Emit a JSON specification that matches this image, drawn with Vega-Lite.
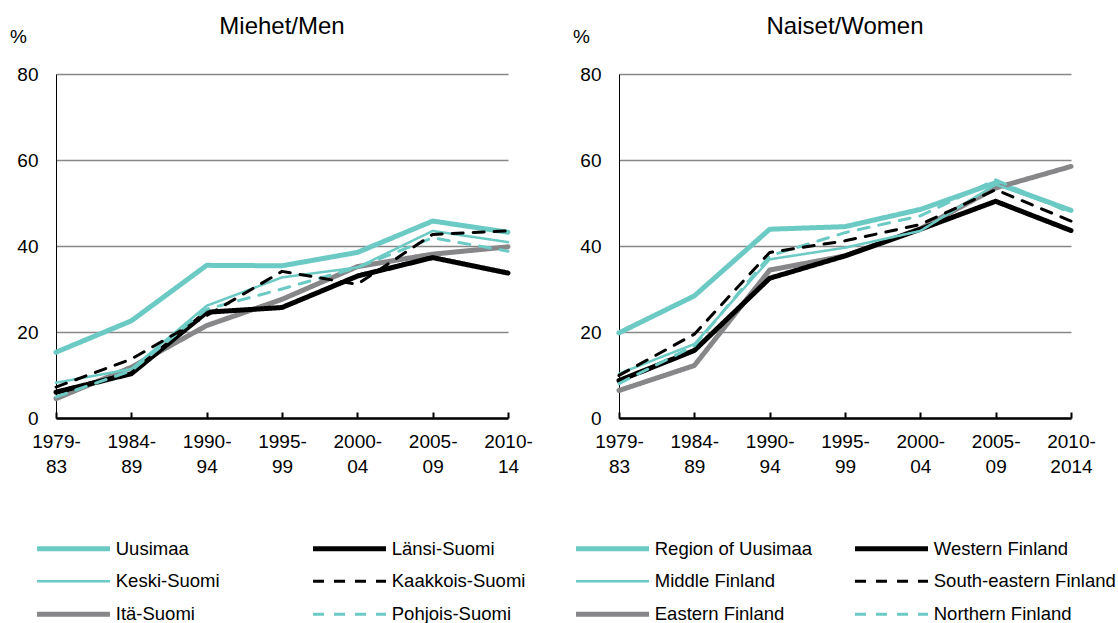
{
  "$schema": "https://vega.github.io/schema/vega-lite/v6.json",
  "padding": {"left": 9, "top": 15, "right": 5, "bottom": 0},
  "background": "white",
  "spacing": 39,
  "resolve": {
    "scale": {"color": "independent", "strokeDash": "independent", "strokeWidth": "independent"},
    "legend": {"color": "independent", "strokeDash": "independent", "strokeWidth": "independent"}
  },
  "config": {
    "font": "Liberation Sans",
    "view": {"stroke": null},
    "title": {"fontSize": 24, "fontWeight": "normal", "color": "#000000", "font": "Liberation Sans", "frame": "group", "offset": -12, "anchor": "middle"},
    "axis": {"labelFont": "Liberation Sans", "labelFontSize": 19, "labelColor": "#000000", "titleFont": "Liberation Sans", "titleFontWeight": "normal", "titleColor": "#000000"},
    "legend": {"labelFont": "Liberation Sans", "labelFontSize": 18.5, "labelColor": "#000000", "labelLimit": 400}
  },
  "datasets": {
    "men": [
      {"region": "Uusimaa", "period": "1979-|83", "value": 15.3},
      {"region": "Uusimaa", "period": "1984-|89", "value": 22.6},
      {"region": "Uusimaa", "period": "1990-|94", "value": 35.5},
      {"region": "Uusimaa", "period": "1995-|99", "value": 35.4},
      {"region": "Uusimaa", "period": "2000-|04", "value": 38.5},
      {"region": "Uusimaa", "period": "2005-|09", "value": 45.8},
      {"region": "Uusimaa", "period": "2010-|14", "value": 43.2},
      {"region": "Itä-Suomi", "period": "1979-|83", "value": 4.5},
      {"region": "Itä-Suomi", "period": "1984-|89", "value": 11.8},
      {"region": "Itä-Suomi", "period": "1990-|94", "value": 21.5},
      {"region": "Itä-Suomi", "period": "1995-|99", "value": 27.6},
      {"region": "Itä-Suomi", "period": "2000-|04", "value": 35.2},
      {"region": "Itä-Suomi", "period": "2005-|09", "value": 38.1},
      {"region": "Itä-Suomi", "period": "2010-|14", "value": 39.8},
      {"region": "Länsi-Suomi", "period": "1979-|83", "value": 6.0},
      {"region": "Länsi-Suomi", "period": "1984-|89", "value": 10.3},
      {"region": "Länsi-Suomi", "period": "1990-|94", "value": 24.6},
      {"region": "Länsi-Suomi", "period": "1995-|99", "value": 25.7},
      {"region": "Länsi-Suomi", "period": "2000-|04", "value": 33.0},
      {"region": "Länsi-Suomi", "period": "2005-|09", "value": 37.3},
      {"region": "Länsi-Suomi", "period": "2010-|14", "value": 33.7},
      {"region": "Keski-Suomi", "period": "1979-|83", "value": 8.2},
      {"region": "Keski-Suomi", "period": "1984-|89", "value": 11.4},
      {"region": "Keski-Suomi", "period": "1990-|94", "value": 26.1},
      {"region": "Keski-Suomi", "period": "1995-|99", "value": 32.7},
      {"region": "Keski-Suomi", "period": "2000-|04", "value": 35.0},
      {"region": "Keski-Suomi", "period": "2005-|09", "value": 43.5},
      {"region": "Keski-Suomi", "period": "2010-|14", "value": 40.9},
      {"region": "Pohjois-Suomi", "period": "1979-|83", "value": 4.9},
      {"region": "Pohjois-Suomi", "period": "1984-|89", "value": 11.0},
      {"region": "Pohjois-Suomi", "period": "1990-|94", "value": 25.3},
      {"region": "Pohjois-Suomi", "period": "1995-|99", "value": 30.0},
      {"region": "Pohjois-Suomi", "period": "2000-|04", "value": 35.0},
      {"region": "Pohjois-Suomi", "period": "2005-|09", "value": 41.9},
      {"region": "Pohjois-Suomi", "period": "2010-|14", "value": 38.8},
      {"region": "Kaakkois-Suomi", "period": "1979-|83", "value": 7.2},
      {"region": "Kaakkois-Suomi", "period": "1984-|89", "value": 13.7},
      {"region": "Kaakkois-Suomi", "period": "1990-|94", "value": 23.8},
      {"region": "Kaakkois-Suomi", "period": "1995-|99", "value": 34.1},
      {"region": "Kaakkois-Suomi", "period": "2000-|04", "value": 31.1},
      {"region": "Kaakkois-Suomi", "period": "2005-|09", "value": 42.7},
      {"region": "Kaakkois-Suomi", "period": "2010-|14", "value": 43.5}
    ],
    "women": [
      {"region": "Region of Uusimaa", "period": "1979-|83", "value": 19.8},
      {"region": "Region of Uusimaa", "period": "1984-|89", "value": 28.4},
      {"region": "Region of Uusimaa", "period": "1990-|94", "value": 43.9},
      {"region": "Region of Uusimaa", "period": "1995-|99", "value": 44.5},
      {"region": "Region of Uusimaa", "period": "2000-|04", "value": 48.5},
      {"region": "Region of Uusimaa", "period": "2005-|09", "value": 54.7},
      {"region": "Region of Uusimaa", "period": "2010-|2014", "value": 48.3},
      {"region": "Eastern Finland", "period": "1979-|83", "value": 6.4},
      {"region": "Eastern Finland", "period": "1984-|89", "value": 12.2},
      {"region": "Eastern Finland", "period": "1990-|94", "value": 34.4},
      {"region": "Eastern Finland", "period": "1995-|99", "value": 37.7},
      {"region": "Eastern Finland", "period": "2000-|04", "value": 44.0},
      {"region": "Eastern Finland", "period": "2005-|09", "value": 53.5},
      {"region": "Eastern Finland", "period": "2010-|2014", "value": 58.5},
      {"region": "Western Finland", "period": "1979-|83", "value": 8.7},
      {"region": "Western Finland", "period": "1984-|89", "value": 15.7},
      {"region": "Western Finland", "period": "1990-|94", "value": 32.5},
      {"region": "Western Finland", "period": "1995-|99", "value": 37.7},
      {"region": "Western Finland", "period": "2000-|04", "value": 43.9},
      {"region": "Western Finland", "period": "2005-|09", "value": 50.4},
      {"region": "Western Finland", "period": "2010-|2014", "value": 43.6},
      {"region": "Middle Finland", "period": "1979-|83", "value": 10.3},
      {"region": "Middle Finland", "period": "1984-|89", "value": 17.2},
      {"region": "Middle Finland", "period": "1990-|94", "value": 36.9},
      {"region": "Middle Finland", "period": "1995-|99", "value": 39.6},
      {"region": "Middle Finland", "period": "2000-|04", "value": 43.5},
      {"region": "Middle Finland", "period": "2005-|09", "value": 54.3},
      {"region": "Middle Finland", "period": "2010-|2014", "value": 48.1},
      {"region": "Northern Finland", "period": "1979-|83", "value": 8.0},
      {"region": "Northern Finland", "period": "1984-|89", "value": 16.8},
      {"region": "Northern Finland", "period": "1990-|94", "value": 37.7},
      {"region": "Northern Finland", "period": "1995-|99", "value": 43.1},
      {"region": "Northern Finland", "period": "2000-|04", "value": 47.0},
      {"region": "Northern Finland", "period": "2005-|09", "value": 55.4},
      {"region": "Northern Finland", "period": "2010-|2014", "value": 47.7},
      {"region": "South-eastern Finland", "period": "1979-|83", "value": 9.9},
      {"region": "South-eastern Finland", "period": "1984-|89", "value": 19.5},
      {"region": "South-eastern Finland", "period": "1990-|94", "value": 38.5},
      {"region": "South-eastern Finland", "period": "1995-|99", "value": 41.2},
      {"region": "South-eastern Finland", "period": "2000-|04", "value": 45.0},
      {"region": "South-eastern Finland", "period": "2005-|09", "value": 53.1},
      {"region": "South-eastern Finland", "period": "2010-|2014", "value": 45.8}
    ]
  },
  "hconcat": [
    {
      "title": {"text": "Miehet/Men"},
      "width": 452,
      "height": 344,
      "data": {"name": "men"},
      "mark": {"type": "line", "strokeCap": "round", "strokeJoin": "round"},
      "encoding": {
        "x": {"field": "period", "type": "ordinal", "sort": null, "scale": {"type": "point", "padding": 0},
          "axis": {"title": null, "labelAngle": 0, "labelExpr": "split(datum.label, '|')", "labelLineHeight": 25, "domainColor": "#000000", "domainWidth": 2.5, "ticks": true, "tickColor": "#000000", "tickWidth": 2, "tickSize": -6, "labelPadding": 20, "grid": false}},
        "y": {"field": "value", "type": "quantitative", "scale": {"domain": [0, 80], "nice": false},
          "axis": {"title": "%", "titleAngle": 0, "titleX": -38, "titleY": -32, "titleAlign": "center", "titleBaseline": "alphabetic", "titleFontSize": 19, "values": [0, 20, 40, 60, 80], "ticks": false, "labelPadding": 18, "domainColor": "#000000", "domainWidth": 1, "grid": true, "gridColor": "#878787", "gridWidth": 1.6}},
        "color": {"field": "region", "type": "nominal",
          "scale": {"domain": ["Uusimaa", "Länsi-Suomi", "Keski-Suomi", "Kaakkois-Suomi", "Itä-Suomi", "Pohjois-Suomi"], "range": ["#6ccac5", "#000000", "#6ccac5", "#000000", "#87878a", "#6ccac5"]},
          "legend": {"orient": "none", "direction": "horizontal", "legendX": -21, "legendY": 465, "columns": 2, "title": null, "symbolType": "M-36.5,0H36.5", "symbolSize": 4, "symbolOffset": 29.25, "labelOffset": 33, "columnPadding": 83, "rowPadding": 13}},
        "strokeDash": {"field": "region", "type": "nominal",
          "scale": {"domain": ["Uusimaa", "Länsi-Suomi", "Keski-Suomi", "Kaakkois-Suomi", "Itä-Suomi", "Pohjois-Suomi"], "range": [[1, 0], [1, 0], [1, 0], [11, 10], [1, 0], [11, 10]]},
          "legend": {"orient": "none", "direction": "horizontal", "legendX": -21, "legendY": 465, "columns": 2, "title": null, "symbolType": "M-36.5,0H36.5", "symbolSize": 4, "symbolOffset": 29.25, "labelOffset": 33, "columnPadding": 83, "rowPadding": 13}},
        "strokeWidth": {"field": "region", "type": "nominal",
          "scale": {"type": "ordinal", "domain": ["Uusimaa", "Länsi-Suomi", "Keski-Suomi", "Kaakkois-Suomi", "Itä-Suomi", "Pohjois-Suomi"], "range": [5, 5, 2.5, 3, 5, 3]},
          "legend": {"orient": "none", "direction": "horizontal", "legendX": -21, "legendY": 465, "columns": 2, "title": null, "symbolType": "M-36.5,0H36.5", "symbolSize": 4, "symbolOffset": 29.25, "labelOffset": 33, "columnPadding": 83, "rowPadding": 13}}
      }
    },
    {
      "title": {"text": "Naiset/Women"},
      "width": 452,
      "height": 344,
      "data": {"name": "women"},
      "mark": {"type": "line", "strokeCap": "round", "strokeJoin": "round"},
      "encoding": {
        "x": {"field": "period", "type": "ordinal", "sort": null, "scale": {"type": "point", "padding": 0},
          "axis": {"title": null, "labelAngle": 0, "labelExpr": "split(datum.label, '|')", "labelLineHeight": 25, "domainColor": "#000000", "domainWidth": 2.5, "ticks": true, "tickColor": "#000000", "tickWidth": 2, "tickSize": -6, "labelPadding": 20, "grid": false}},
        "y": {"field": "value", "type": "quantitative", "scale": {"domain": [0, 80], "nice": false},
          "axis": {"title": "%", "titleAngle": 0, "titleX": -38, "titleY": -32, "titleAlign": "center", "titleBaseline": "alphabetic", "titleFontSize": 19, "values": [0, 20, 40, 60, 80], "ticks": false, "labelPadding": 18, "domainColor": "#000000", "domainWidth": 1, "grid": true, "gridColor": "#878787", "gridWidth": 1.6}},
        "color": {"field": "region", "type": "nominal",
          "scale": {"domain": ["Region of Uusimaa", "Western Finland", "Middle Finland", "South-eastern Finland", "Eastern Finland", "Northern Finland"], "range": ["#6ccac5", "#000000", "#6ccac5", "#000000", "#87878a", "#6ccac5"]},
          "legend": {"orient": "none", "direction": "horizontal", "legendX": -45, "legendY": 465, "columns": 2, "title": null, "symbolType": "M-36.5,0H36.5", "symbolSize": 4, "symbolOffset": 29.25, "labelOffset": 33, "columnPadding": 32, "rowPadding": 13}},
        "strokeDash": {"field": "region", "type": "nominal",
          "scale": {"domain": ["Region of Uusimaa", "Western Finland", "Middle Finland", "South-eastern Finland", "Eastern Finland", "Northern Finland"], "range": [[1, 0], [1, 0], [1, 0], [11, 10], [1, 0], [11, 10]]},
          "legend": {"orient": "none", "direction": "horizontal", "legendX": -45, "legendY": 465, "columns": 2, "title": null, "symbolType": "M-36.5,0H36.5", "symbolSize": 4, "symbolOffset": 29.25, "labelOffset": 33, "columnPadding": 32, "rowPadding": 13}},
        "strokeWidth": {"field": "region", "type": "nominal",
          "scale": {"type": "ordinal", "domain": ["Region of Uusimaa", "Western Finland", "Middle Finland", "South-eastern Finland", "Eastern Finland", "Northern Finland"], "range": [5, 5, 2.5, 3, 5, 3]},
          "legend": {"orient": "none", "direction": "horizontal", "legendX": -45, "legendY": 465, "columns": 2, "title": null, "symbolType": "M-36.5,0H36.5", "symbolSize": 4, "symbolOffset": 29.25, "labelOffset": 33, "columnPadding": 32, "rowPadding": 13}}
      }
    }
  ]
}
